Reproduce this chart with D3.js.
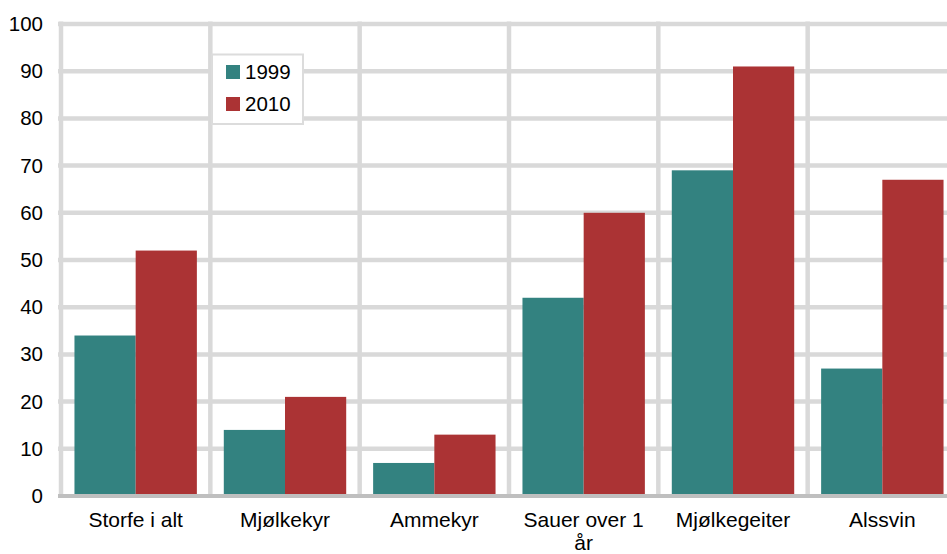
<!DOCTYPE html>
<html>
<head>
<meta charset="utf-8">
<script src="https://cdn.jsdelivr.net/npm/d3@7"></script>
<style>
  body { margin: 0; background: #fff; }
  svg text { font-family: "Liberation Sans", Arial, sans-serif; font-size: 20.5px; fill: #000; }
</style>
</head>
<body>
<script>
const categories = ["Storfe i alt", "Mjølkekyr", "Ammekyr", "Sauer over 1 år", "Mjølkegeiter", "Alssvin"];
const years = ["1999", "2010"];
const values1999 = [34, 14, 7, 42, 69, 27];
const values2010 = [52, 21, 13, 60, 91, 67];
const yTicks = [0, 10, 20, 30, 40, 50, 60, 70, 80, 90, 100];

const width = 947, height = 554;
const colors = { "1999": "#338280", "2010": "#ab3334" };

const rows = categories.map(function(c, i) {
    return { cat: c, vals: [{ year: "1999", v: values1999[i] }, { year: "2010", v: values2010[i] }] };
});

const svg = d3.select("body").append("svg")
    .attr("width", width)
    .attr("height", height);

// plot runs past the right edge, like the original crop
const x0 = d3.scaleBand()
    .domain(categories)
    .range([61, 957])
    .padding(0);

const x1 = d3.scaleBand()
    .domain(years)
    .range([0, x0.bandwidth()])
    .paddingInner(0)
    .paddingOuter(0.22);

const y = d3.scaleLinear()
    .domain([0, 100])
    .range([496, 24]);

// horizontal grid
svg.append("g")
    .selectAll("line")
    .data(yTicks.filter(function(d) { return d > 0; }))
    .join("line")
    .attr("x1", 58)
    .attr("x2", width)
    .attr("y1", function(d) { return y(d); })
    .attr("y2", function(d) { return y(d); })
    .attr("stroke", "#d9d9d9")
    .attr("stroke-width", 4.5);

// vertical grid at category boundaries
const bounds = categories.map(function(c) { return x0(c); });
svg.append("g")
    .selectAll("line")
    .data(bounds)
    .join("line")
    .attr("x1", function(d) { return d; })
    .attr("x2", function(d) { return d; })
    .attr("y1", 21.5)
    .attr("y2", 496)
    .attr("stroke", "#d9d9d9")
    .attr("stroke-width", 4.5);

// bars
svg.append("g")
    .selectAll("g")
    .data(rows)
    .join("g")
    .attr("transform", function(d) { return "translate(" + x0(d.cat) + ",0)"; })
    .selectAll("rect")
    .data(function(d) { return d.vals; })
    .join("rect")
    .attr("x", function(d) { return x1(d.year); })
    .attr("width", x1.bandwidth())
    .attr("y", function(d) { return y(d.v); })
    .attr("height", function(d) { return y(0) - y(d.v); })
    .attr("fill", function(d) { return colors[d.year]; });

// baseline
svg.append("line")
    .attr("x1", 58)
    .attr("x2", width)
    .attr("y1", y(0))
    .attr("y2", y(0))
    .attr("stroke", "#bfbfbf")
    .attr("stroke-width", 4);

// y axis labels
const yAxis = svg.append("g")
    .attr("transform", "translate(61,0)")
    .call(d3.axisLeft(y).tickValues(yTicks).tickSize(0).tickPadding(18));
yAxis.select(".domain").remove();
yAxis.selectAll("text").style("font-size", "20.5px").style("font-family", "'Liberation Sans', Arial, sans-serif").attr("fill", "#000");

// x axis labels
const xAxis = svg.append("g")
    .attr("transform", "translate(0," + y(0) + ")")
    .call(d3.axisBottom(x0).tickSize(0).tickPadding(16));
xAxis.select(".domain").remove();
xAxis.selectAll("text")
    .style("font-size", "21px")
    .style("font-family", "'Liberation Sans', Arial, sans-serif")
    .attr("fill", "#000")
    .call(wrap, 130);

function wrap(text, w) {
    text.each(function() {
        const t = d3.select(this);
        const words = t.text().split(/\s+/).reverse();
        const yy = t.attr("y");
        const dy = parseFloat(t.attr("dy"));
        let line = [], lineNo = 0, word;
        let tspan = t.text(null).append("tspan").attr("x", 0).attr("y", yy).attr("dy", dy + "em");
        while ((word = words.pop())) {
            line.push(word);
            tspan.text(line.join(" "));
            if (tspan.node().getComputedTextLength() > w && line.length > 1) {
                line.pop();
                tspan.text(line.join(" "));
                line = [word];
                tspan = t.append("tspan").attr("x", 0).attr("y", yy)
                    .attr("dy", (++lineNo * 1.1 + dy) + "em").text(word);
            }
        }
    });
}

// legend
const legend = svg.append("g");
legend.append("rect")
    .attr("x", 212)
    .attr("y", 54.5)
    .attr("width", 91)
    .attr("height", 69.5)
    .attr("fill", "#fff")
    .attr("stroke", "#dcdcdc")
    .attr("stroke-width", 2);

const items = legend.selectAll("g.item")
    .data(years)
    .join("g")
    .attr("class", "item")
    .attr("transform", function(d, i) { return "translate(226," + (65 + i * 32) + ")"; });
items.append("rect")
    .attr("width", 14)
    .attr("height", 14)
    .attr("fill", function(d) { return colors[d]; });
items.append("text")
    .attr("x", 19)
    .attr("y", 14)
    .text(function(d) { return d; });
</script>
</body>
</html>
